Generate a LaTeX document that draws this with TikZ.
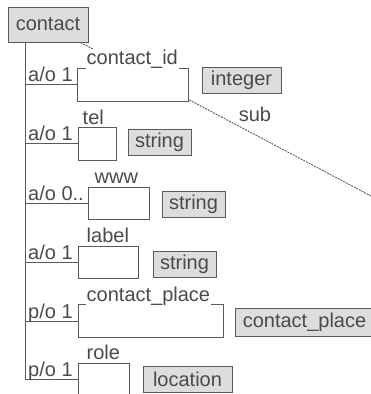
\documentclass[tikz,border=0pt]{standalone}
\usepackage{fontspec}
\setmainfont{Liberation Sans}
\usetikzlibrary{positioning}
\definecolor{linegray}{HTML}{5A5A5A}
\definecolor{textgray}{HTML}{4A4A4A}
\definecolor{fillgray}{HTML}{DDDDDD}

\begin{document}
\begin{tikzpicture}[x=1pt, y=-1pt,
  every node/.style={font=\fontsize{20}{22}\selectfont, text=textgray},
  elembox/.style={draw=linegray, line width=1pt, fill=white, minimum height=33pt, inner sep=0pt},
  typebox/.style={draw=linegray, line width=1pt, fill=fillgray, minimum height=26pt, inner sep=0pt},
  card/.style={anchor=base west, inner sep=0pt},
  elemname/.style={anchor=base west, inner sep=1pt, fill=white},
  link/.style={draw=linegray, line width=1pt},
  subline/.style={draw=linegray, line width=0.9pt, dash pattern=on 2pt off 1pt}]
\useasboundingbox (0,0) rectangle (371,394);
\node[typebox, minimum width=80pt, minimum height=35pt] (contact) at (48,24.5) {contact};
\coordinate (trunktop) at (25,42);
% sub link, behind the boxes
\coordinate (substart) at ([xshift=-8pt]contact.south east);
\coordinate (subend) at (390,206);
\draw[subline] (substart) -- (subend);
\node (sublbl) at (255,114) {sub};
% contact_id
\node[elembox, minimum width=111pt] (idbox) at (132.5,84.5) {};
\node[elemname] (idname) at ([xshift=9pt,yshift=3pt]idbox.north west) {contact\_id};
\node[typebox, minimum width=79pt] (idtype) at (241.5,80) {integer};
% tel
\node[elembox, minimum width=38pt] (telbox) at (97,143.5) {};
\node[elemname] (telname) at ([xshift=4pt,yshift=2pt]telbox.north west) {tel};
\node[typebox, minimum width=63pt] (teltype) at (159.5,142) {string};
% www
\node[elembox, minimum width=61pt, minimum height=32pt] (wwwbox) at (118.5,203) {};
\node[elemname] (wwwname) at ([xshift=6pt,yshift=3pt]wwwbox.north west) {www};
\node[typebox, minimum width=63pt] (wwwtype) at (193.5,204) {string};
% label
\node[elembox, minimum width=60pt, minimum height=32pt] (lblbox) at (108,262) {};
\node[elemname] (lblname) at ([xshift=8pt,yshift=3pt]lblbox.north west) {label};
\node[typebox, minimum width=63pt] (lbltype) at (184.5,264.5) {string};
% contact_place
\node[elembox, minimum width=145pt] (cpbox) at (150.5,321) {};
\node[elemname] (cpname) at ([xshift=8pt,yshift=3pt]cpbox.north west) {contact\_place};
\node[typebox, minimum width=139pt, minimum height=28pt] (cptype) at (304.5,322) {contact\_place};
% role
\node[elembox, minimum width=51pt] (rolebox) at (103.5,379.5) {};
\node[elemname] (rolename) at ([xshift=8pt,yshift=3pt]rolebox.north west) {role};
\node[typebox, minimum width=89pt] (roletype) at (187.5,379) {location};
% tree
\draw[link] (trunktop) -- (trunktop |- rolebox.west);
\coordinate (j1) at (trunktop |- idbox.west);
\coordinate (j2) at (trunktop |- telbox.west);
\coordinate (j3) at (trunktop |- wwwbox.west);
\coordinate (j4) at (trunktop |- lblbox.west);
\coordinate (j5) at (trunktop |- cpbox.west);
\coordinate (j6) at (trunktop |- rolebox.west);
\draw[link] (j1) -- (idbox.west);
\draw[link] (j2) -- (telbox.west);
\draw[link] (j3) -- (wwwbox.west);
\draw[link] (j4) -- (lblbox.west);
\draw[link] (j5) -- (cpbox.west);
\draw[link] (j6) -- (rolebox.west);
\node[card] (c1) at ([xshift=3pt,yshift=3pt]j1) {a/o 1};
\node[card] (c2) at ([xshift=3pt,yshift=3pt]j2) {a/o 1};
\node[card] (c3) at ([xshift=3pt,yshift=3pt]j3) {a/o 0..};
\node[card] (c4) at ([xshift=3pt,yshift=3pt]j4) {a/o 1};
\node[card] (c5) at ([xshift=3pt,yshift=3pt]j5) {p/o 1};
\node[card] (c6) at ([xshift=3pt,yshift=3pt]j6) {p/o 1};
\end{tikzpicture}
\end{document}
